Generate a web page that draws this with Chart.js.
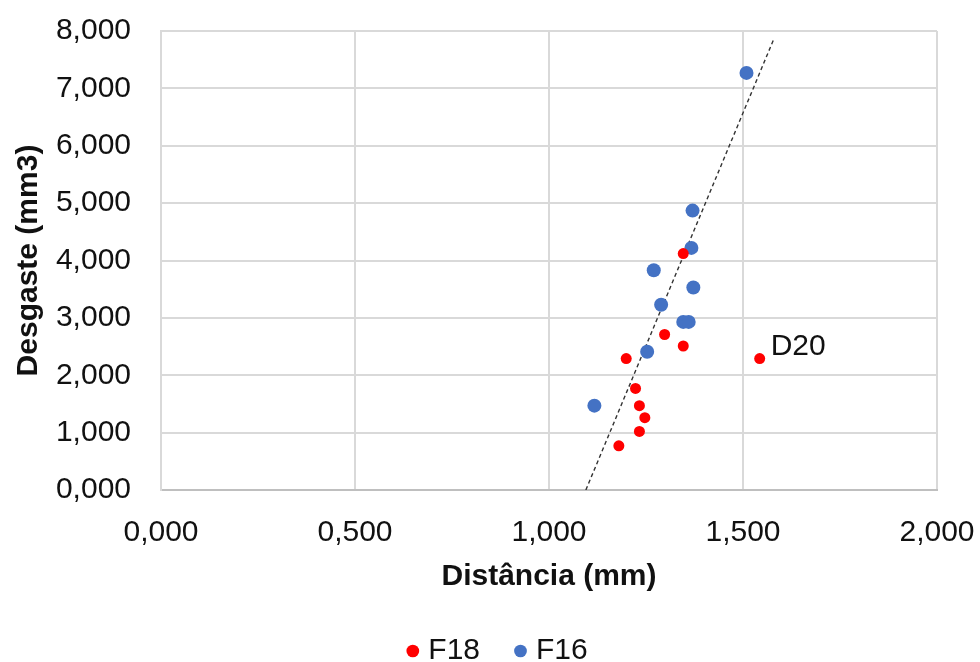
<!DOCTYPE html>
<html lang="pt">
<head>
    <meta charset="UTF-8">
    <title>Desgaste x Distância</title>
    <script src="https://cdn.jsdelivr.net/npm/chart.js"></script>
    <style>
        html, body { margin: 0; padding: 0; background: #fff; }
        .chart-box { position: relative; width: 980px; height: 662px; }
    </style>
</head>
<body>
    <div class="chart-box">
        <canvas id="wearChart"></canvas>
    </div>
    <script>
        // F18 (red) and F16 (blue) points: distance (mm) vs wear (mm3)
        const f18X = [1.346, 1.298, 1.346, 1.199, 1.543, 1.223, 1.233, 1.247, 1.233, 1.180];
        const f18Y = [4.12, 2.71, 2.51, 2.29, 2.29, 1.77, 1.47, 1.26, 1.02, 0.77];
        const f16X = [1.509, 1.370, 1.367, 1.270, 1.372, 1.289, 1.346, 1.360, 1.253, 1.117];
        const f16Y = [7.27, 4.87, 4.22, 3.83, 3.53, 3.23, 2.93, 2.93, 2.41, 1.47];
        // dashed trend line end points
        const trendX = [1.095, 1.580];
        const trendY = [0.0, 7.87];
        const xTicks = [0, 0.5, 1, 1.5, 2];
        const yTicks = [0, 1, 2, 3, 4, 5, 6, 7, 8];
        const labelIndex = 4; // D20
        const labelText = 'D20';

        const font = 'Liberation Sans, Arial, sans-serif';
        const toPoints = (xs, ys) => xs.map((x, i) => ({ x: x, y: ys[i] }));
        const fmt = v => Number(v).toFixed(3).replace('.', ',');

        const pointLabel = {
            id: 'pointLabel',
            afterLayout(chart) {
                // center the legend under the whole picture, not the plot
                chart.legend.left += 26;
                chart.legend.right += 26;
            },
            afterDatasetsDraw(chart) {
                const pt = chart.getDatasetMeta(0).data[labelIndex];
                const c = chart.ctx;
                c.save();
                c.font = '30px ' + font;
                c.fillStyle = '#111';
                c.textBaseline = 'middle';
                c.textAlign = 'left';
                c.fillText(labelText, pt.x + 11, pt.y - 12);
                c.restore();
            }
        };

        const ctx = document.getElementById('wearChart').getContext('2d');
        const wearChart = new Chart(ctx, {
            type: 'scatter',
            data: {
                datasets: [
                    {
                        label: 'F18',
                        data: toPoints(f18X, f18Y),
                        backgroundColor: '#ff0000',
                        borderColor: '#ff0000',
                        pointRadius: 5.5,
                        borderWidth: 0
                    },
                    {
                        label: 'F16',
                        data: toPoints(f16X, f16Y),
                        backgroundColor: '#4472c4',
                        borderColor: '#4472c4',
                        pointRadius: 7,
                        borderWidth: 0
                    },
                    {
                        label: 'trend',
                        type: 'line',
                        data: toPoints(trendX, trendY),
                        borderColor: '#333333',
                        borderWidth: 1.4,
                        borderDash: [4, 3],
                        pointRadius: 0,
                        fill: false
                    }
                ]
            },
            options: {
                responsive: true,
                maintainAspectRatio: false,
                animation: false,
                layout: { padding: { top: 31, right: 43, left: 11, bottom: -14 } },
                plugins: {
                    tooltip: { enabled: false },
                    legend: {
                        position: 'bottom',
                        labels: {
                            filter: item => item.text !== 'trend',
                            usePointStyle: true,
                            pointStyle: 'circle',
                            boxWidth: 1,
                            boxHeight: 9,
                            padding: 40,
                            color: '#111',
                            font: { family: font, size: 30 }
                        }
                    }
                },
                scales: {
                    x: {
                        type: 'linear',
                        min: 0,
                        max: 2,
                        afterBuildTicks: axis => { axis.ticks = xTicks.map(v => ({ value: v })); },
                        afterFit: axis => {
                            axis.height = 106;
                            axis.paddingLeft = 0;
                            axis.paddingRight = 0;
                        },
                        ticks: {
                            callback: fmt,
                            padding: 25,
                            maxRotation: 0,
                            color: '#111',
                            font: { family: font, size: 30 }
                        },
                        grid: { color: '#d9d9d9', lineWidth: 2, drawTicks: false },
                        border: { color: '#bfbfbf', width: 2 },
                        title: {
                            display: true,
                            text: 'Distância (mm)',
                            color: '#111',
                            padding: { top: 0, bottom: 1 },
                            font: { family: font, size: 30, weight: 'bold' }
                        }
                    },
                    y: {
                        type: 'linear',
                        min: 0,
                        max: 8,
                        afterBuildTicks: axis => { axis.ticks = yTicks.map(v => ({ value: v })); },
                        afterFit: axis => {
                            axis.width = 150;
                            axis.paddingTop = 0;
                            axis.paddingBottom = 0;
                        },
                        ticks: {
                            callback: fmt,
                            padding: 30,
                            color: '#111',
                            font: { family: font, size: 30 }
                        },
                        grid: { color: '#d9d9d9', lineWidth: 2, drawTicks: false },
                        border: { color: '#d9d9d9', width: 2 },
                        title: {
                            display: true,
                            text: 'Desgaste (mm3)',
                            color: '#111',
                            padding: 0,
                            font: { family: font, size: 30, weight: 'bold' }
                        }
                    }
                }
            },
            plugins: [pointLabel]
        });
    </script>
</body>
</html>
